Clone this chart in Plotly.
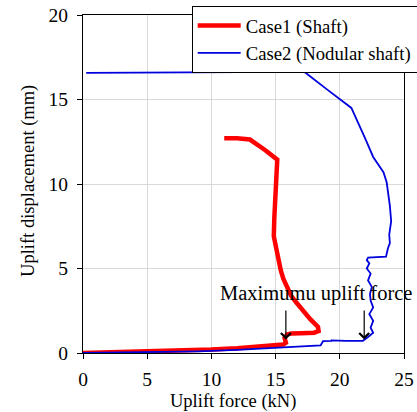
import plotly.graph_objects as go

# Case1 (Shaft)
case1_force = [0, 2, 4, 6, 8, 10, 12, 13.5, 15.0, 15.6, 15.8, 15.7, 15.9, 16.2, 17.0, 18.0, 18.35, 18.3, 17.7, 17.1, 16.6, 16.2, 15.9, 15.6, 15.4, 15.2, 14.95, 14.86, 14.9, 14.95, 15.05, 15.13, 14.2, 13.0, 12.0, 11.0]
case1_disp = [0.0, 0.03, 0.06, 0.1, 0.15, 0.2, 0.28, 0.35, 0.45, 0.5, 0.6, 0.9, 1.1, 1.15, 1.17, 1.2, 1.3, 1.55, 2.0, 2.5, 3.0, 3.4, 3.9, 4.4, 4.9, 5.6, 6.5, 6.9, 8.0, 9.1, 10.3, 11.44, 12.0, 12.63, 12.7, 12.7]

# Case2 (Nodular shaft)
case2_force = [0, 3, 6, 9, 12, 15.3, 17.0, 18.5, 18.7, 19.4, 19.3, 20.5, 21.8, 22.2, 22.6, 22.4, 22.6, 22.3, 22.6, 22.4, 22.35, 22.5, 22.2, 22.4, 22.1, 22.3, 22.1, 22.2, 23.6, 23.75, 23.9, 23.85, 24.0, 23.9, 23.75, 23.65, 23.4, 22.9, 22.6, 22.0, 21.5, 20.9, 19.0, 17.2, 16.1, 10.0, 4.0, 0.25]
case2_disp = [0.0, 0.02, 0.05, 0.1, 0.18, 0.32, 0.38, 0.45, 0.7, 0.72, 0.75, 0.72, 0.72, 0.95, 1.2, 1.5, 1.9, 2.3, 2.7, 3.1, 3.5, 3.9, 4.3, 4.7, 5.0, 5.3, 5.5, 5.65, 5.7, 6.2, 6.5, 7.0, 7.8, 8.7, 9.6, 10.1, 10.7, 11.3, 11.6, 12.66, 13.5, 14.5, 15.6, 16.66, 16.63, 16.62, 16.62, 16.57]

x_ticks = [0, 5, 10, 15, 20, 25]
y_ticks = [0, 5, 10, 15, 20]

arrow_x = [15.8, 21.9]
arrow_head_y = 0.8
arrow_tail_y = 2.6
note_text = "Maximumu uplift force"
x_title = "Uplift force (kN)"
y_title = "Uplift displacement (mm)"

FONT = "Times New Roman, Liberation Serif, serif"
FS_TICK = 19.5
FS_TITLE = 18.5
FS_LEG = 18.7
FS_NOTE = 20.5

fig = go.Figure()
fig.add_trace(go.Scatter(x=case1_force, y=case1_disp, mode="lines", name="Case1 (Shaft)",
                         line=dict(color="#ff0000", width=4.5)))
fig.add_trace(go.Scatter(x=case2_force, y=case2_disp, mode="lines", name="Case2 (Nodular shaft)",
                         line=dict(color="#0000dd", width=1.8)))

for ax_x in arrow_x:
    fig.add_annotation(x=ax_x, y=arrow_head_y, ax=ax_x, ay=arrow_tail_y, xref="x", yref="y",
                       axref="x", ayref="y", showarrow=True, arrowhead=4, arrowsize=1.6,
                       arrowwidth=1.2, arrowcolor="black", text="")
fig.add_annotation(x=18.15, y=3.5, xref="x", yref="y", text=note_text, showarrow=False,
                   font=dict(family=FONT, size=FS_NOTE, color="black"))

# axis titles placed as text annotations
fig.add_annotation(x=0.4667, y=-0.143, xref="paper", yref="paper", text=x_title, showarrow=False,
                   xanchor="center", yanchor="middle", font=dict(family=FONT, size=FS_TITLE, color="black"))
fig.add_annotation(x=-0.1705, y=0.51, xref="paper", yref="paper", text=y_title, showarrow=False,
                   textangle=-90, xanchor="center", yanchor="middle",
                   font=dict(family=FONT, size=FS_TITLE, color="black"))

axis_common = dict(showline=True, linecolor="black", linewidth=1, mirror=True,
                   showgrid=True, gridcolor="#d9d9d9", gridwidth=1, zeroline=False,
                   ticks="outside", ticklen=5, tickcolor="black",
                   tickfont=dict(family=FONT, size=FS_TICK, color="black"))

fig.update_xaxes(range=[0, 25], tickvals=x_ticks, ticklabelstandoff=4, **axis_common)
fig.update_yaxes(range=[0, 20], tickvals=y_ticks, ticklabelstandoff=5, **axis_common)

fig.update_layout(
    width=417, height=412,
    margin=dict(l=83, r=13, t=15, b=59, autoexpand=False),
    plot_bgcolor="white", paper_bgcolor="white",
    font=dict(family=FONT, size=FS_TICK, color="black"),
    legend=dict(x=0.3386, y=1.027, xanchor="left", yanchor="top",
                bordercolor="black", borderwidth=1, bgcolor="white", itemwidth=43,
                font=dict(family=FONT, size=FS_LEG, color="black"), tracegroupgap=0),
    showlegend=True,
)

fig.write_html("out.html")
